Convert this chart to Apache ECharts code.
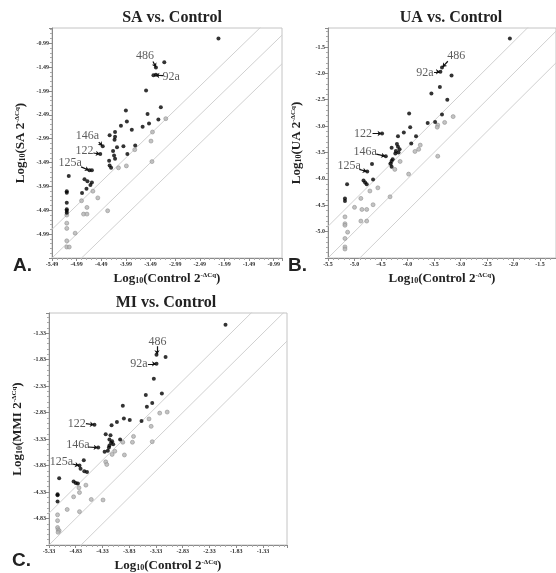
<!DOCTYPE html>
<html><head><meta charset="utf-8">
<script src="https://cdn.jsdelivr.net/npm/echarts@6/dist/echarts.min.js"></script>
<style>html,body{margin:0;padding:0;background:#fff}#c{width:556px;height:573px}</style>
</head><body><div id="c"></div>
<script>
// ---------- DATA ----------
const saUp = [[-2.11,-0.89],[-3.21,-1.39],[-3.38,-1.50],[-3.43,-1.66],[-3.38,-1.65],[-3.58,-1.98],[-3.28,-2.33],[-3.99,-2.40],[-3.55,-2.47],[-3.97,-2.63],[-4.09,-2.72],[-3.87,-2.80],[-3.65,-2.74],[-3.52,-2.67],[-3.33,-2.59],[-4.21,-2.85],[-4.32,-2.92],[-4.21,-2.95],[-4.22,-3.01],[-4.17,-3.17],[-4.04,-3.15],[-3.80,-3.13],[-4.46,-3.15],[-4.25,-3.25],[-4.23,-3.34],[-4.21,-3.41],[-3.96,-3.31],[-4.51,-3.31],[-4.33,-3.45],[-4.32,-3.55],[-4.29,-3.60],[-4.73,-3.65],[-4.68,-3.65],[-5.15,-3.77],[-4.83,-3.84],[-4.77,-3.88],[-4.68,-3.91],[-4.71,-3.96],[-4.79,-4.04],[-4.88,-4.13],[-5.19,-4.09],[-5.19,-4.12],[-5.19,-4.33],[-5.19,-4.47],[-5.19,-4.50],[-5.19,-4.54]];
const saOther = [[-3.18,-2.57],[-3.45,-2.85],[-3.48,-3.04],[-3.46,-3.47],[-3.81,-3.22],[-3.98,-3.56],[-4.14,-3.60],[-4.66,-4.09],[-4.56,-4.23],[-4.89,-4.29],[-4.78,-4.43],[-4.85,-4.57],[-4.78,-4.57],[-4.36,-4.50],[-5.19,-4.59],[-5.19,-4.76],[-5.19,-4.87],[-5.02,-4.97],[-5.19,-5.13],[-5.19,-5.26],[-5.14,-5.26]];
const uaUp = [[-2.07,-1.34],[-3.35,-1.89],[-3.38,-1.97],[-3.17,-2.04],[-3.39,-2.26],[-3.55,-2.38],[-3.25,-2.50],[-3.97,-2.76],[-3.35,-2.78],[-3.62,-2.94],[-3.48,-2.92],[-3.95,-3.02],[-4.07,-3.12],[-3.84,-3.19],[-4.18,-3.19],[-3.93,-3.33],[-4.48,-3.14],[-4.30,-3.41],[-4.20,-3.34],[-4.18,-3.39],[-4.15,-3.44],[-4.22,-3.47],[-4.17,-3.50],[-4.23,-3.52],[-4.41,-3.57],[-4.28,-3.63],[-4.30,-3.66],[-4.32,-3.71],[-4.30,-3.77],[-4.67,-3.72],[-4.76,-3.86],[-4.65,-4.01],[-4.83,-4.03],[-4.80,-4.07],[-4.77,-4.10],[-5.14,-4.10],[-5.18,-4.37],[-5.18,-4.42]];
const uaOther = [[-3.14,-2.82],[-3.30,-2.93],[-3.43,-2.98],[-3.44,-3.02],[-3.76,-3.36],[-3.79,-3.44],[-3.86,-3.48],[-3.43,-3.57],[-4.14,-3.67],[-4.32,-3.72],[-4.24,-3.82],[-3.98,-3.91],[-4.56,-4.17],[-4.71,-4.23],[-4.33,-4.34],[-4.88,-4.37],[-5.00,-4.54],[-4.86,-4.58],[-4.77,-4.58],[-4.65,-4.49],[-4.88,-4.80],[-4.77,-4.80],[-5.18,-4.72],[-5.18,-4.85],[-5.18,-4.88],[-5.13,-5.01],[-5.18,-5.13],[-5.18,-5.29],[-5.18,-5.33]];
const miUp = [[-2.03,-1.17],[-3.32,-1.74],[-3.15,-1.78],[-3.32,-1.91],[-3.37,-2.19],[-3.22,-2.47],[-3.52,-2.50],[-3.50,-2.72],[-3.40,-2.65],[-3.95,-2.70],[-3.93,-2.94],[-3.82,-2.97],[-3.60,-2.99],[-4.06,-3.01],[-4.16,-3.07],[-4.48,-3.06],[-4.27,-3.24],[-4.18,-3.26],[-4.00,-3.34],[-4.20,-3.34],[-4.15,-3.37],[-4.17,-3.40],[-4.13,-3.43],[-4.20,-3.45],[-4.21,-3.49],[-4.41,-3.49],[-4.29,-3.57],[-4.23,-3.55],[-4.68,-3.73],[-4.76,-3.83],[-4.74,-3.89],[-4.67,-3.94],[-4.62,-3.95],[-5.14,-4.07],[-4.87,-4.13],[-4.83,-4.16],[-4.79,-4.17],[-5.17,-4.37],[-5.17,-4.39],[-5.17,-4.51]];
const miOther = [[-3.12,-2.82],[-3.26,-2.84],[-3.46,-2.95],[-3.42,-3.09],[-3.40,-3.38],[-3.75,-3.28],[-3.77,-3.39],[-3.95,-3.39],[-4.10,-3.56],[-4.15,-3.62],[-3.92,-3.63],[-4.27,-3.76],[-4.25,-3.81],[-4.64,-4.20],[-4.77,-4.25],[-4.76,-4.34],[-4.87,-4.42],[-4.54,-4.47],[-4.32,-4.48],[-4.99,-4.66],[-4.76,-4.70],[-5.17,-4.76],[-5.17,-4.87],[-5.17,-5.00],[-5.16,-5.04],[-5.14,-5.06],[-5.16,-5.09]];
// annotations: [label, textX, textY, arrowFromX, arrowFromY, arrowToX, arrowToY]
const saNotes = [["486",-3.60,-1.25,-3.44,-1.37,-3.38,-1.49],["92a",-3.07,-1.70,-3.23,-1.67,-3.39,-1.66],["146a",-4.77,-2.92,-4.54,-3.06,-4.47,-3.14],["122",-4.83,-3.25,-4.65,-3.29,-4.52,-3.31],["125a",-5.12,-3.49,-4.90,-3.58,-4.74,-3.65]];
const uaNotes = [["486",-3.08,-1.67,-3.24,-1.77,-3.34,-1.88],["92a",-3.67,-1.99,-3.50,-1.97,-3.39,-1.97],["122",-4.84,-3.14,-4.66,-3.14,-4.49,-3.14],["146a",-4.80,-3.48,-4.59,-3.53,-4.42,-3.57],["125a",-5.10,-3.76,-4.91,-3.82,-4.77,-3.86]];
const miNotes = [["486",-3.30,-1.50,-3.31,-1.58,-3.31,-1.73],["92a",-3.65,-1.91,-3.48,-1.91,-3.33,-1.91],["122",-4.81,-3.04,-4.64,-3.04,-4.49,-3.06],["146a",-4.79,-3.44,-4.60,-3.48,-4.42,-3.49],["125a",-5.10,-3.76,-4.89,-3.80,-4.77,-3.83]];
const guideOffsets = [0.6, 0, -0.6];
const titles = ["SA vs. Control","UA vs. Control","MI vs. Control"];
const yNames = ["SA","UA","MMI"];
const panelLetters = ["A.","B.","C."];
// axis extents [xmin,xmax,ymin,ymax,interval,decimals]
const axesA = [-5.49,-0.82,-5.49,-0.67,0.5,2];
const axesB = [-5.5,-1.2,-5.5,-1.14,0.5,1];
const axesC = [-5.33,-0.88,-5.33,-0.95,0.5,2];

// ---------- CHART ----------
const serif = 'Liberation Serif';
const grids = [
  {left:52, top:28, width:230, height:230},
  {left:328, top:28, width:231, height:230},
  {left:49, top:313, width:238, height:234}
].map(g => Object.assign(g, {show:true, borderColor:'#c4c4c4', borderWidth:1, containLabel:false}));

const richName = {
  a:{fontFamily:serif, fontWeight:'bold', fontSize:13, color:'#222'},
  s:{fontFamily:serif, fontWeight:'bold', fontSize:8, color:'#222', verticalAlign:'bottom', lineHeight:11},
  p:{fontFamily:serif, fontWeight:'bold', fontSize:7, color:'#222', verticalAlign:'top', lineHeight:11}
};
function axis(i, min, max, interval, dec, name, isY) {
  return {
    type:'value', gridIndex:i, min, max, interval,
    name, nameLocation:'middle', nameGap: isY ? 25 : 14,
    nameTextStyle:{rich:richName},
    axisLine:{show:true, onZero:false, lineStyle:{color:'#8a8a8a', width:1}},
    axisTick:{show:true, length:3, lineStyle:{color:'#8a8a8a'}},
    minorTick:{show:true, splitNumber:5, length:2, lineStyle:{color:'#aaa'}},
    splitLine:{show:false},
    axisLabel:{fontSize:6, fontFamily:serif, fontWeight:'bold', color:'#333', margin:3,
      showMaxLabel:false, showMinLabel: !isY,
      formatter: v => v.toFixed(dec)}
  };
}
const xName = '{a|Log}{s|10}{a|(Control 2}{p|-ΔCq}{a|)}';
const yName = n => '{a|Log}{s|10}{a|(' + n + ' 2}{p|-ΔCq}{a|)}';
const allAxes = [axesA, axesB, axesC];
const xAxes = allAxes.map((a,i) => axis(i, a[0], a[1], a[4], a[5], xName, false));
const yAxes = allAxes.map((a,i) => axis(i, a[2], a[3], a[4], a[5], yName(yNames[i]), true));

const series = [];
const ups = [saUp, uaUp, miUp], others = [saOther, uaOther, miOther], notes = [saNotes, uaNotes, miNotes];
allAxes.forEach((a,i) => {
  guideOffsets.forEach(c => {
    series.push({type:'line', xAxisIndex:i, yAxisIndex:i, data:[[a[0], a[0]+c],[a[1], a[1]+c]],
      showSymbol:false, silent:true, clip:true, lineStyle:{color:'#d0d0d0', width:1}, z:1});
  });
  series.push({type:'scatter', xAxisIndex:i, yAxisIndex:i, data:others[i], symbolSize:4,
    itemStyle:{color:'#b4b4b4', borderColor:'#8c8c8c', borderWidth:0.7}, z:3});
  series.push({type:'scatter', xAxisIndex:i, yAxisIndex:i, data:ups[i], symbolSize:4,
    itemStyle:{color:'#000'}, z:4});
  series.push({type:'lines', coordinateSystem:'cartesian2d', xAxisIndex:i, yAxisIndex:i,
    data: notes[i].map(n => ({coords:[[n[3],n[4]],[n[5],n[6]]]})),
    symbol:['none','arrow'], symbolSize:4, lineStyle:{color:'#111', width:1.2, opacity:1}, z:5, silent:true});
  series.push({type:'scatter', xAxisIndex:i, yAxisIndex:i, symbolSize:0,
    data: notes[i].map(n => ({name:n[0], value:[n[1],n[2]]})),
    label:{show:true, position:'inside', formatter:'{b}', fontFamily:serif, fontSize:12, color:'#333'}, z:6, silent:true});
});

const graphic = [
  {type:'text', x:172, y:10, style:{text:titles[0], font:'bold 16px "Liberation Serif"', fill:'#222', textAlign:'center'}},
  {type:'text', x:451, y:10, style:{text:titles[1], font:'bold 16px "Liberation Serif"', fill:'#222', textAlign:'center'}},
  {type:'text', x:166, y:295, style:{text:titles[2], font:'bold 16px "Liberation Serif"', fill:'#222', textAlign:'center'}},
  {type:'text', x:13, y:256, style:{text:panelLetters[0], font:'bold 19px "Liberation Sans"', fill:'#222'}},
  {type:'text', x:288, y:256, style:{text:panelLetters[1], font:'bold 19px "Liberation Sans"', fill:'#222'}},
  {type:'text', x:12, y:551, style:{text:panelLetters[2], font:'bold 19px "Liberation Sans"', fill:'#222'}}
];

const chart = echarts.init(document.getElementById('c'), null, {renderer:'canvas'});
chart.setOption({animation:false, grid:grids, xAxis:xAxes, yAxis:yAxes, series, graphic});
</script></body></html>
